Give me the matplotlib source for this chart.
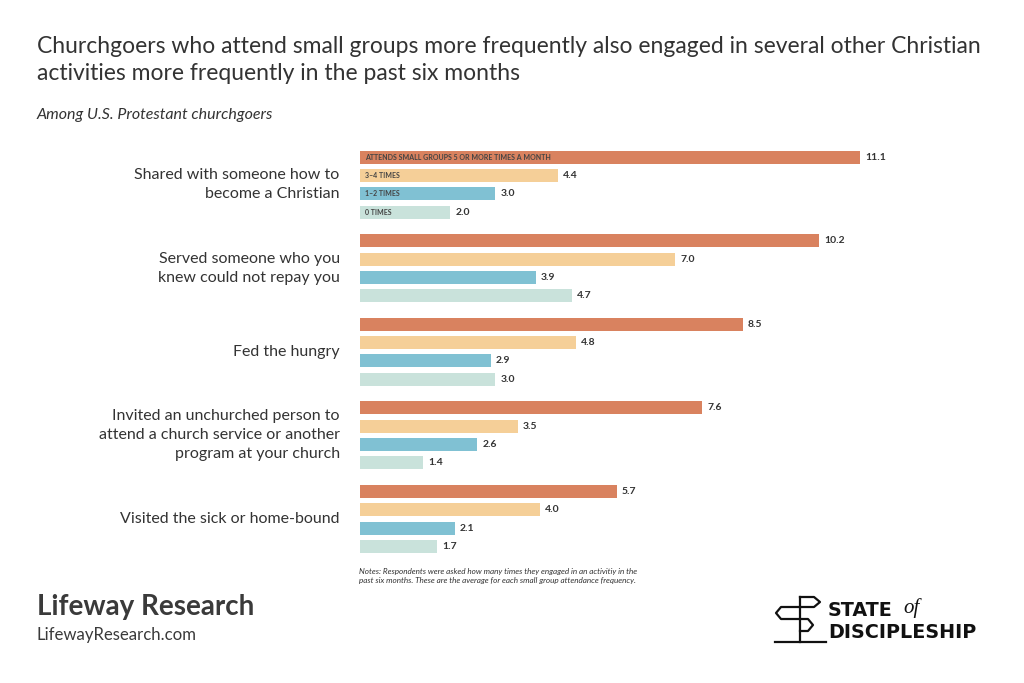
import numpy as np
import matplotlib
matplotlib.use("Agg")
import matplotlib.pyplot as plt
from matplotlib.lines import Line2D

plt.rcParams['font.family'] = ['Lato', 'DejaVu Sans']

# data
activities = [
    "Shared with someone how to\nbecome a Christian",
    "Served someone who you\nknew could not repay you",
    "Fed the hungry",
    "Invited an unchurched person to\nattend a church service or another\nprogram at your church",
    "Visited the sick or home-bound",
]
series_names = ["ATTENDS SMALL GROUPS 5 OR MORE TIMES A MONTH", "3–4 TIMES", "1–2 TIMES", "0 TIMES"]
five_plus = [11.1, 10.2, 8.5, 7.6, 5.7]
three_four = [4.4, 7.0, 4.8, 3.5, 4.0]
one_two = [3.0, 3.9, 2.9, 2.6, 2.1]
zero = [2.0, 4.7, 3.0, 1.4, 1.7]
colors = ["#D9825F", "#F5CF98", "#80C1D3", "#C9E2DB"]

series = [five_plus, three_four, one_two, zero]
group_gap = 4.57
bar_h = 0.71

fig = plt.figure(figsize=(10.24, 6.83), dpi=100)
ax = fig.add_axes([360 / 1024, 0.1865, 540 / 1024, 0.7833 - 0.1865])

for i, (vals, col, name) in enumerate(zip(series, colors, series_names)):
    ys = np.arange(len(activities)) * group_gap + i
    ax.barh(ys, vals, height=bar_h, color=col)
    for y, v in zip(ys, vals):
        ax.text(v + 0.12, y, f"{v:.1f}", va="center", ha="left",
                fontsize=7.5, fontweight="bold", color="#333333")
    # series label inside first group's bar
    ax.text(0.12, ys[0], name, va="center", ha="left", fontsize=5,
            fontweight="bold", color="#444444")

for g, lab in enumerate(activities):
    ax.text(-0.45, g * group_gap + 1.5, lab, ha="right", va="center",
            fontsize=11.5, color="#333333", linespacing=1.45)

ax.set_xlim(0, 12)
ax.set_ylim(21.78, -0.5)
ax.axis("off")

fig.text(37 / 1024, 1 - 60 / 683,
         "Churchgoers who attend small groups more frequently also engaged in several other Christian\n"
         "activities more frequently in the past six months",
         fontsize=16.5, color="#333333", va="center", ha="left", linespacing=1.3)
fig.text(37 / 1024, 1 - 115 / 683, "Among U.S. Protestant churchgoers",
         fontsize=11.5, style="italic", color="#333333", va="center")

fig.text(359 / 1024, 1 - 576 / 683,
         "Notes: Respondents were asked how many times they engaged in an activitiy in the\n"
         "past six months. These are the average for each small group attendance frequency.",
         fontsize=5.9, style="italic", color="#333333", va="center", linespacing=1.4)

fig.text(37 / 1024, 1 - 607 / 683, "Lifeway Research", fontsize=20,
         fontweight="bold", color="#3a3a3a", va="center")
fig.text(37 / 1024, 1 - 635 / 683, "LifewayResearch.com", fontsize=12.1,
         color="#3a3a3a", va="center")

# State of Discipleship logo
def fx(p):
    return p / 1024

def fy(p):
    return 1 - p / 683

lw = 1.6
k = "#111111"
segs = [
    ([800, 800], [597, 642]),
    ([775, 826], [642, 642]),
    # left-pointing sign
    ([800, 781, 776, 781, 800], [607, 607, 613, 619, 619]),
    # top sign pointing right
    ([800, 814, 820, 814, 800], [597, 597, 602, 607, 607]),
    # lower sign pointing right
    ([800, 808, 813, 808, 800], [619, 619, 625, 631, 631]),
]
for xs, ys in segs:
    fig.add_artist(Line2D([fx(x) for x in xs], [fy(y) for y in ys],
                          color=k, lw=lw, transform=fig.transFigure))
fig.text(fx(828), fy(610), "STATE", fontsize=13.8, fontweight="bold",
         color=k, va="center", family=["DejaVu Sans"])
fig.text(fx(903), fy(608), "of", fontsize=15, style="italic",
         color=k, va="center", family=["Liberation Serif"])
fig.text(fx(828), fy(633), "DISCIPLESHIP", fontsize=13.8, fontweight="bold",
         color=k, va="center", family=["DejaVu Sans"])

fig.savefig("out.png", dpi=100, facecolor="white")
